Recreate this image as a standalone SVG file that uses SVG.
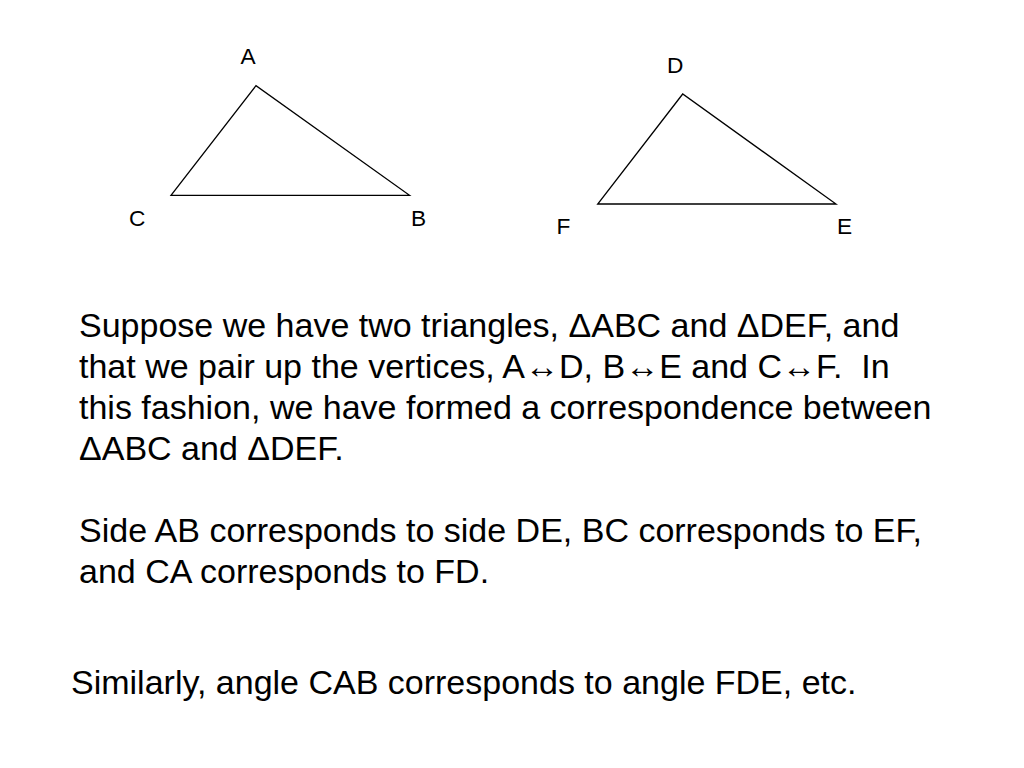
<svg xmlns="http://www.w3.org/2000/svg" width="1024" height="768" viewBox="0 0 1024 768">
<style>
.tri{fill:none;stroke:#000;stroke-width:1.3;stroke-linejoin:miter}
.lbl{font-family:"Liberation Sans",Arial,sans-serif;font-size:22.7px;fill:#000}
.body{font-family:"Liberation Sans",Arial,sans-serif;font-size:34px;fill:#000;white-space:pre}
</style>
<rect width="1024" height="768" fill="#fff"/>
<g id="triangle-abc">
<polygon class="tri" points="256,85.7 171,195.3 409.5,195.3"/>
<text class="lbl" x="240.5" y="64">A</text>
<text class="lbl" x="129" y="225.7">C</text>
<text class="lbl" x="411" y="225.7">B</text>
</g>
<g id="triangle-def">
<polygon class="tri" points="682.7,94 597.7,204 836,204"/>
<text class="lbl" x="667" y="72.7">D</text>
<text class="lbl" x="556.5" y="234.3">F</text>
<text class="lbl" x="837" y="234.3">E</text>
</g>
<g id="text-block">
<text class="body" xml:space="preserve"><tspan x="79" y="337">Suppose we have two triangles, ΔABC and ΔDEF, and</tspan><tspan x="79" y="378">that we pair up the vertices, A↔D, B↔E and C↔F.  In</tspan><tspan x="79" y="419">this fashion, we have formed a correspondence between</tspan><tspan x="79" y="460">ΔABC and ΔDEF.</tspan><tspan x="79" y="542">Side AB corresponds to side DE, BC corresponds to EF,</tspan><tspan x="79" y="583">and CA corresponds to FD.</tspan></text>
</g>
<g id="text-similarly">
<text class="body" x="71" y="694">Similarly, angle CAB corresponds to angle FDE, etc.</text>
</g>
</svg>
